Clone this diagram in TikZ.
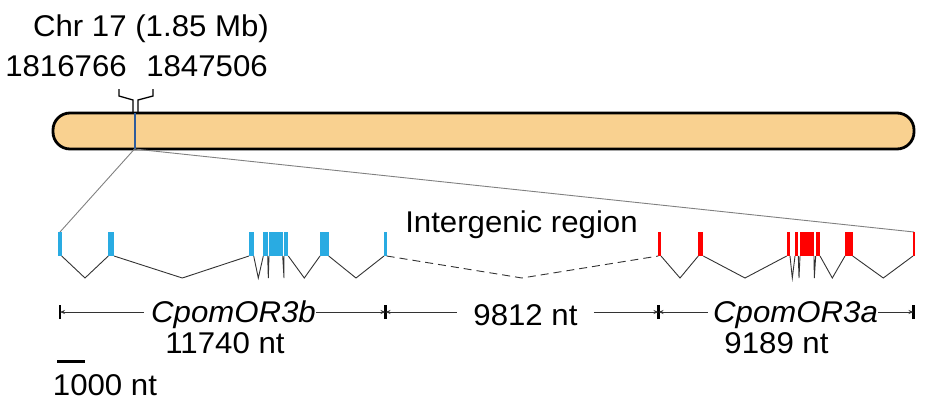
\documentclass[tikz,border=0pt]{standalone}
\usepackage{fontspec}
\setmainfont{Liberation Sans}[FakeStretch=1.04]
\usetikzlibrary{arrows.meta}
\definecolor{chromo}{HTML}{F9D190}
\definecolor{chrline}{HTML}{2E5C9C}
\definecolor{exonblue}{HTML}{29ABE2}
\definecolor{exonred}{HTML}{FF0000}
\definecolor{intron}{HTML}{333333}
\definecolor{zoomline}{HTML}{808080}
\begin{document}
\begin{tikzpicture}[x=1pt,y=-1pt,
  lbl/.style={font=\fontsize{30}{30}\selectfont, inner sep=0pt, anchor=base},
  ilbl/.style={lbl, font=\fontsize{30}{30}\selectfont\itshape},
  intronline/.style={draw=intron, line width=0.9pt, line join=miter},
  zoomln/.style={draw=zoomline, line width=0.9pt},
  tickmark/.style={draw=black, line width=2.8pt},
  dimline/.style={draw=black!80, line width=0.8pt},
  tipL/.style={{Stealth[length=5pt,width=4pt]}-},
  tipR/.style={-{Stealth[length=5pt,width=4pt]}},
]
\useasboundingbox (0,0) rectangle (934,420);

% chromosome
\draw[fill=chromo, line width=2.8pt, rounded corners=17pt] (53,113) rectangle (914,149);
\coordinate (chrtop) at (134.5,113);
\coordinate (chrbot) at (134.5,149);
\draw[chrline, line width=2pt] (chrtop) -- (chrbot);

% labels
\node[lbl] (chr) at (151,37) {Chr 17 (1.85 Mb)};
\node[lbl] (posA) at (66,77) {1816766};
\node[lbl] (posB) at (207,77) {1847506};

% bracket
\draw[line width=1.3pt] (119,89) -- (119,96) -- (133,100) -- (133,113);
\draw[line width=1.3pt] (153,89) -- (153,96) -- (138,100) -- (138,113);

% zoom lines
\coordinate (genL) at (60,232);
\coordinate (genR) at (914,232);
\draw[zoomln] (chrbot) -- (genL);
\draw[zoomln] (chrbot) -- (genR);

% blue gene (CpomOR3b)
\foreach \a/\b in {58.3/61.7,108.3/114,249/253.7,263.3/267.7,269/282.7,284/288.3,320/328.7,384/386.7}
  \fill[exonblue] (\a,232) rectangle (\b,256);
\draw[intronline] (61.7,256) -- (85,278) -- (108.3,256);
\draw[intronline] (114,256) -- (182.3,278) -- (249,256);
\draw[intronline] (253.7,256) -- (258.3,278) -- (263.3,256);
\draw[intronline] (267.7,256) -- (268.3,278) -- (269,256);
\draw[intronline] (282.7,256) -- (284,278) -- (284,256);
\draw[intronline] (288.3,256) -- (304.3,278) -- (320,256);
\draw[intronline] (328.7,256) -- (356,278) -- (384,256);

% intergenic
\draw[intronline, dash pattern=on 8pt off 5pt] (386.7,256) -- (522,278) -- (658.3,256);
\node[lbl] (inter) at (521.5,232) {Intergenic region};

% red gene (CpomOR3a)
\foreach \a/\b in {658.3/661,698.3/703.3,786.7/790,795/798.3,800/814,815.7/820,845/852.7,913/915}
  \fill[exonred] (\a,232) rectangle (\b,256);
\draw[intronline] (661,256) -- (680,278) -- (698.3,256);
\draw[intronline] (703.3,256) -- (745,278) -- (786.7,256);
\draw[intronline] (790,256) -- (792.3,278) -- (795,256);
\draw[intronline] (798.3,256) -- (799,278) -- (800,256);
\draw[intronline] (814,256) -- (814.3,278) -- (815.7,256);
\draw[intronline] (820,256) -- (832.3,278) -- (845,256);
\draw[intronline] (852.7,256) -- (883.3,278) -- (913,256);

% dimension lines
\coordinate (t1) at (60,312);
\coordinate (t2) at (385.5,312);
\coordinate (t3) at (658.5,312);
\coordinate (t4) at (913.5,312);
\foreach \t in {t1,t2,t3,t4}
  \draw[tickmark] ([yshift=-7pt]\t) -- ([yshift=7pt]\t);

\node[ilbl] (g3b) at (233.5,322) {CpomOR3b};
\node[lbl] (len3b) at (225,353) {11740 nt};
\node[lbl] (lenI) at (525.5,325) {9812 nt};
\node[ilbl] (g3a) at (795.5,322) {CpomOR3a};
\node[lbl] (len3a) at (776.5,353) {9189 nt};

\draw[dimline, tipL] (t1) -- ([xshift=-7pt]g3b.west |- t1);
\draw[dimline, tipR] (g3b.east |- t1) -- (t2);
\draw[dimline, tipL] (t2) -- ([xshift=-16pt]lenI.west |- t2);
\draw[dimline, tipR] ([xshift=16pt]lenI.east |- t3) -- (t3);
\draw[dimline, tipL] (t3) -- ([xshift=-5pt]g3a.west |- t3);
\draw[dimline, tipR] (g3a.east |- t4) -- (t4);

% scale bar
\coordinate (sb1) at (57,361);
\coordinate (sb2) at (85,361);
\draw[line width=3pt] (sb1) -- (sb2);
\node[lbl] (sbl) at (105,395) {1000 nt};
\end{tikzpicture}
\end{document}
